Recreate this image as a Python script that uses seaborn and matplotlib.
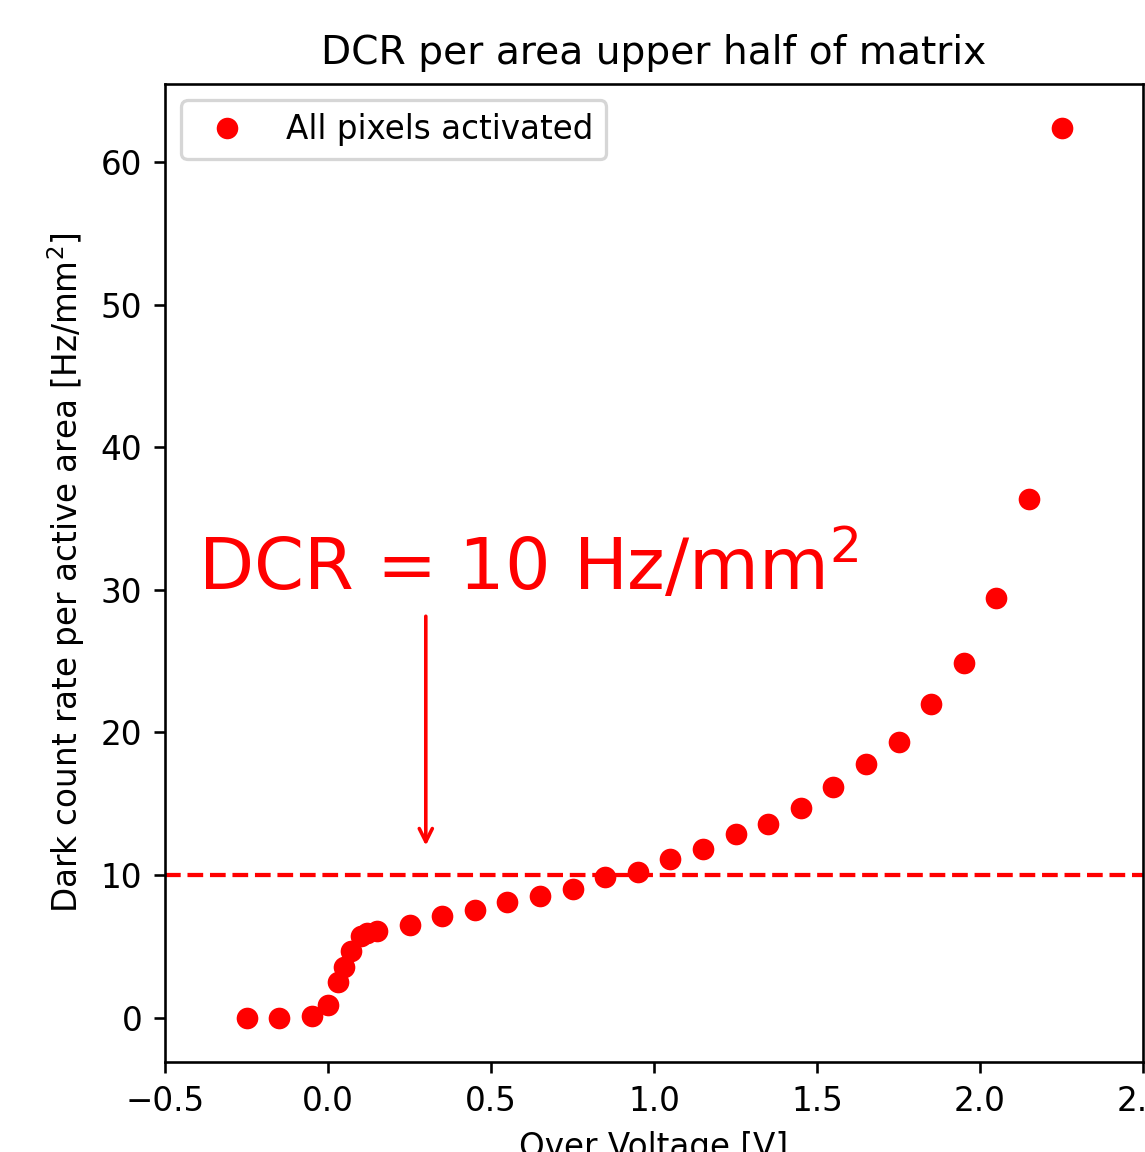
import matplotlib
matplotlib.use("Agg")
import matplotlib.pyplot as plt
from matplotlib.lines import Line2D
import seaborn as sns
import numpy as np
import pandas as pd

over_voltage = [-0.25, -0.15, -0.05, 0.0, 0.03, 0.05, 0.07, 0.10, 0.12, 0.15,
                0.25, 0.35, 0.45, 0.55, 0.65, 0.75, 0.85, 0.95, 1.05, 1.15,
                1.25, 1.35, 1.45, 1.55, 1.65, 1.75, 1.85, 1.95, 2.05, 2.15, 2.25]
dcr = [0.0, 0.0, 0.1, 0.85, 2.5, 3.55, 4.7, 5.75, 5.95, 6.05,
       6.5, 7.15, 7.55, 8.1, 8.5, 9.0, 9.85, 10.2, 11.1, 11.8,
       12.9, 13.6, 14.7, 16.2, 17.8, 19.3, 22.0, 24.85, 29.4, 36.35, 62.35]

series_label = "All pixels activated"
title = "DCR per area upper half of matrix"
xlabel = "Over Voltage [V]"
ylabel = "Dark count rate per active area [Hz/mm$^2$]"
threshold = 10
annot_text = "DCR = 10 Hz/mm$^2$"

df = pd.DataFrame({"x": over_voltage, "y": dcr})

dpi = 235
fig = plt.figure(figsize=(1145 / dpi, 1152 / dpi), dpi=dpi)
ax = fig.add_axes([165 / 1145, 90 / 1152, (1143 - 165) / 1145, (1062 - 84) / 1152])

sns.scatterplot(data=df, x="x", y="y", ax=ax, color="red", s=44, linewidth=0,
                legend=False, zorder=3)
ax.axhline(threshold, color="red", linestyle="--", linewidth=1.3)

ax.text(-0.4, 30, annot_text, color="red", fontsize=22)
ax.annotate("", xy=(0.3, 11.6), xytext=(0.3, 28.6),
            arrowprops=dict(arrowstyle="->", color="red", lw=1.1))

ax.set_xlim(-0.5, 2.5)
ax.set_xticks([-0.5, 0.0, 0.5, 1.0, 1.5, 2.0, 2.5])
ax.set_yticks([0, 10, 20, 30, 40, 50, 60])
ax.set_title(title, fontsize=12)
ax.set_xlabel(xlabel, fontsize=10)
ax.set_ylabel(ylabel, fontsize=10)
handle = Line2D([], [], marker="o", linestyle="", color="red",
                markersize=6.6, markeredgewidth=0)
ax.legend(handles=[handle], labels=[series_label], loc="upper left")

fig.savefig("out.png", dpi=dpi)
